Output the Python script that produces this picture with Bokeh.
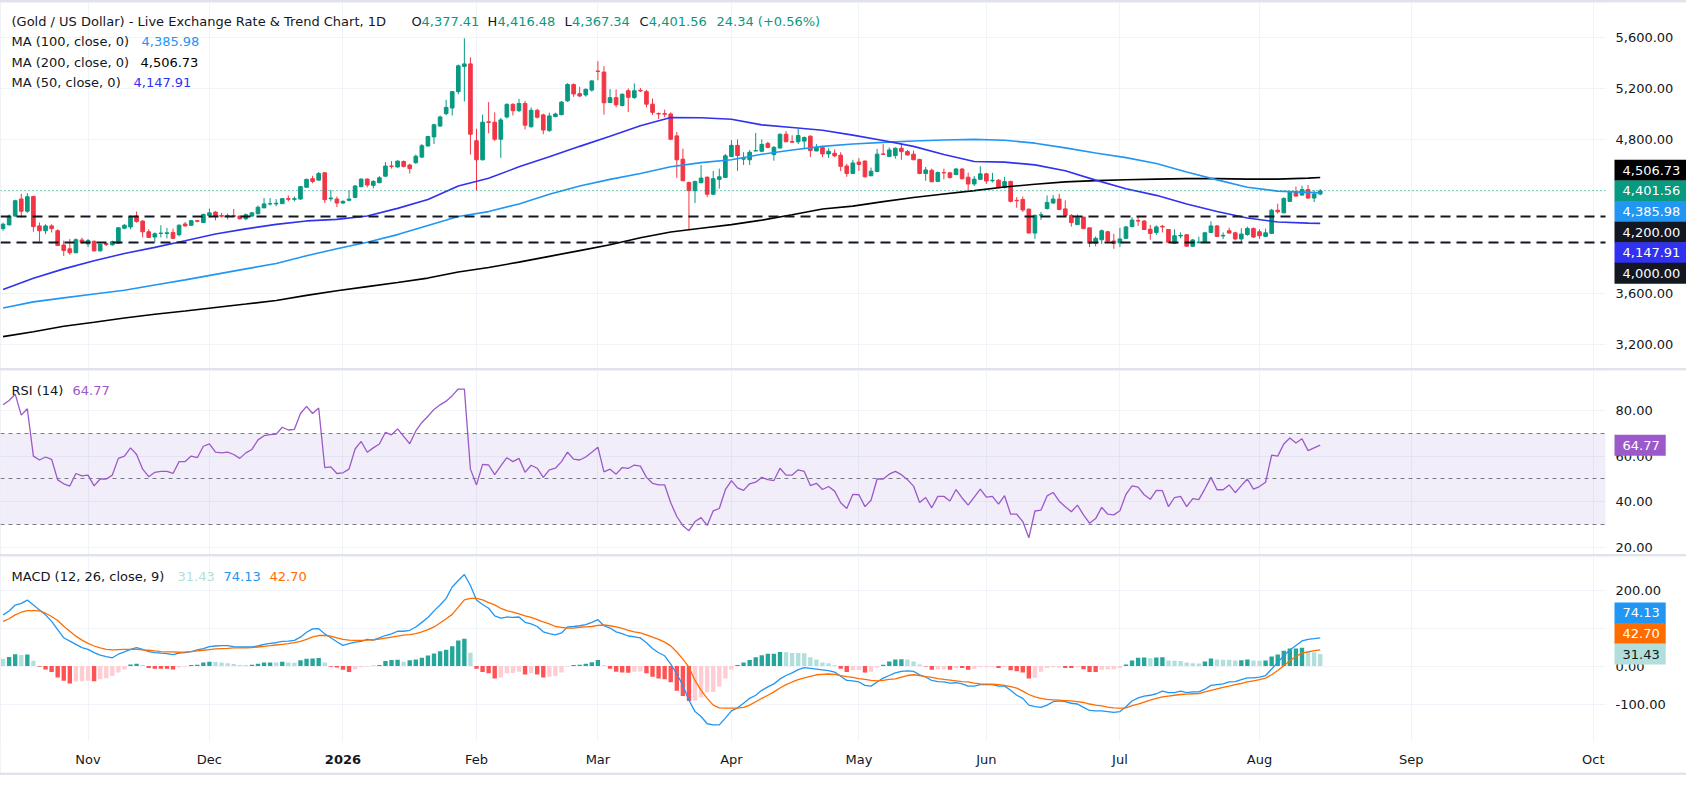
from bokeh.core.properties import value
from bokeh.embed import file_html
from bokeh.layouts import column
from bokeh.models import FixedTicker, Label, Range1d
from bokeh.plotting import figure
from bokeh.resources import INLINE

# Gold / US Dollar, daily bars (x = bar index, mid-Oct 2025 .. 14 Aug 2026)
opens = [
    4107, 4136, 4205, 4338, 4243, 4358, 4128, 4090, 4128, 4090,
    3979, 3949, 3918, 4018, 3987, 4008, 3933, 3990, 3980, 3992,
    4110, 4120, 4205, 4166, 4082, 4041, 4069, 4069, 4077, 4059,
    4143, 4133, 4169, 4154, 4210, 4236, 4210, 4203, 4208, 4205,
    4184, 4205, 4223, 4269, 4300, 4300, 4302, 4341, 4336, 4338,
    4430, 4497, 4486, 4543, 4340, 4338, 4307, 4328, 4351, 4435,
    4494, 4445, 4466, 4517, 4596, 4589, 4632, 4604, 4622, 4666,
    4753, 4824, 4909, 5006, 5050, 5178, 5375, 5395, 4794, 4645,
    4942, 4939, 4806, 4980, 5078, 5029, 5085, 4904, 5032, 4996,
    4875, 4983, 4998, 5106, 5234, 5162, 5152, 5190, 5339, 5331,
    5093, 5131, 5070, 5185, 5132, 5188, 5178, 5080, 5006, 5006,
    5003, 4832, 4650, 4468, 4404, 4466, 4509, 4376, 4492, 4507,
    4671, 4758, 4650, 4645, 4714, 4712, 4773, 4686, 4737, 4845,
    4788, 4786, 4791, 4829, 4714, 4742, 4691, 4696, 4681, 4596,
    4538, 4627, 4635, 4520, 4553, 4691, 4671, 4678, 4735, 4709,
    4689, 4648, 4538, 4563, 4476, 4545, 4543, 4530, 4573, 4509,
    4456, 4492, 4535, 4481, 4486, 4430, 4476, 4328, 4335, 4259,
    4072, 4213, 4264, 4307, 4338, 4261, 4210, 4138, 4197, 4113,
    3992, 4020, 4082, 4010, 3995, 4031, 4123, 4169, 4166, 4102,
    4077, 4125, 4100, 3992, 4049, 4059, 3969, 3997, 4005, 4077,
    4128, 4049, 4090, 4074, 4026, 4061, 4108, 4082, 4046, 4069,
    4251, 4230, 4320, 4389, 4369, 4412, 4346, 4377.41]
highs = [
    4154, 4218, 4333, 4379, 4384, 4364, 4154, 4141, 4141, 4102,
    4013, 4026, 4031, 4036, 4026, 4013, 3987, 3995, 4013, 4120,
    4143, 4210, 4241, 4172, 4102, 4077, 4133, 4113, 4107, 4141,
    4159, 4174, 4174, 4223, 4264, 4243, 4230, 4225, 4261, 4207,
    4225, 4236, 4287, 4346, 4346, 4338, 4346, 4366, 4358, 4440,
    4497, 4520, 4550, 4548, 4410, 4358, 4328, 4405, 4448, 4499,
    4499, 4486, 4517, 4627, 4635, 4640, 4640, 4614, 4686, 4768,
    4832, 4927, 4991, 5114, 5183, 5390, 5595, 5446, 4888, 4998,
    5096, 5016, 4973, 5088, 5088, 5121, 5106, 5055, 5044, 5006,
    5014, 5014, 5106, 5244, 5242, 5216, 5203, 5267, 5416, 5377,
    5198, 5195, 5165, 5203, 5242, 5206, 5193, 5124, 5016, 5037,
    5016, 4863, 4732, 4474, 4481, 4604, 4515, 4558, 4576, 4691,
    4799, 4804, 4704, 4722, 4855, 4804, 4786, 4753, 4850, 4870,
    4837, 4886, 4827, 4837, 4768, 4755, 4735, 4727, 4704, 4614,
    4645, 4658, 4640, 4584, 4730, 4768, 4742, 4742, 4773, 4722,
    4717, 4653, 4589, 4576, 4553, 4576, 4548, 4581, 4579, 4545,
    4517, 4594, 4543, 4543, 4494, 4512, 4481, 4353, 4358, 4264,
    4218, 4238, 4366, 4369, 4379, 4328, 4220, 4218, 4200, 4113,
    4046, 4100, 4090, 4067, 4113, 4128, 4195, 4197, 4174, 4136,
    4133, 4136, 4102, 4102, 4077, 4064, 4026, 4044, 4082, 4164,
    4136, 4077, 4115, 4082, 4110, 4123, 4115, 4102, 4107, 4261,
    4302, 4351, 4392, 4435, 4443, 4448, 4407, 4416.48]
lows = [
    4090, 4133, 4200, 4192, 4230, 4082, 4005, 4064, 4077, 3972,
    3892, 3903, 3915, 3987, 3962, 3928, 3928, 3969, 3974, 3990,
    4102, 4102, 4154, 4038, 4033, 4000, 4038, 4031, 4026, 4046,
    4123, 4128, 4156, 4154, 4205, 4172, 4192, 4179, 4200, 4179,
    4172, 4200, 4218, 4269, 4287, 4282, 4302, 4320, 4320, 4333,
    4430, 4461, 4486, 4307, 4320, 4276, 4300, 4320, 4346, 4430,
    4430, 4422, 4461, 4512, 4576, 4584, 4584, 4538, 4614, 4658,
    4748, 4768, 4904, 4993, 4991, 5157, 5101, 4686, 4404, 4640,
    4852, 4791, 4660, 4968, 4991, 5019, 4883, 4896, 4968, 4845,
    4863, 4978, 4993, 5098, 5137, 5134, 5139, 5178, 5267, 4998,
    5088, 5055, 5062, 5019, 5121, 5175, 5055, 4996, 4965, 4978,
    4799, 4504, 4481, 4102, 4307, 4461, 4353, 4371, 4420, 4507,
    4666, 4558, 4604, 4604, 4712, 4704, 4735, 4638, 4735, 4783,
    4778, 4768, 4735, 4666, 4712, 4666, 4660, 4666, 4556, 4512,
    4532, 4558, 4507, 4517, 4550, 4684, 4666, 4653, 4645, 4678,
    4645, 4532, 4481, 4468, 4471, 4492, 4497, 4525, 4492, 4405,
    4440, 4486, 4456, 4468, 4422, 4420, 4312, 4269, 4238, 4072,
    4026, 4174, 4256, 4302, 4251, 4205, 4123, 4136, 4102, 3962,
    3969, 3987, 4000, 3949, 3962, 4026, 4115, 4128, 4097, 4020,
    4059, 4077, 3995, 3987, 4031, 3969, 3962, 3990, 4000, 4072,
    4044, 4026, 4069, 4015, 3997, 4051, 4033, 4026, 4041, 4069,
    4225, 4230, 4317, 4358, 4366, 4340, 4315, 4367.34]
closes = [
    4141, 4205, 4325, 4243, 4356, 4123, 4090, 4128, 4107, 3974,
    3936, 3918, 4020, 4000, 4013, 3933, 3985, 3983, 4005, 4113,
    4133, 4200, 4162, 4082, 4038, 4067, 4072, 4074, 4031, 4133,
    4128, 4169, 4164, 4218, 4230, 4205, 4203, 4208, 4203, 4184,
    4215, 4230, 4274, 4300, 4302, 4305, 4341, 4336, 4341, 4435,
    4492, 4476, 4538, 4333, 4346, 4307, 4320, 4338, 4440, 4494,
    4448, 4476, 4504, 4596, 4594, 4635, 4594, 4576, 4673, 4755,
    4827, 4919, 4980, 5055, 5178, 5380, 5395, 4845, 4645, 4939,
    4937, 4806, 4957, 5078, 5029, 5085, 4916, 5032, 4978, 4878,
    4988, 5003, 5096, 5234, 5160, 5144, 5196, 5262, 5336, 5091,
    5131, 5075, 5157, 5134, 5185, 5183, 5080, 5016, 5003, 5001,
    4806, 4645, 4481, 4404, 4476, 4502, 4376, 4497, 4512, 4676,
    4758, 4678, 4655, 4704, 4717, 4765, 4742, 4742, 4845, 4786,
    4783, 4835, 4819, 4717, 4742, 4691, 4712, 4676, 4594, 4538,
    4620, 4609, 4512, 4556, 4689, 4687, 4722, 4735, 4709, 4683,
    4645, 4538, 4566, 4474, 4545, 4543, 4507, 4573, 4497, 4456,
    4494, 4535, 4479, 4486, 4430, 4474, 4320, 4325, 4253, 4072,
    4210, 4215, 4312, 4338, 4256, 4210, 4154, 4192, 4107, 3992,
    4031, 4090, 4010, 3990, 4026, 4120, 4174, 4166, 4100, 4069,
    4120, 4120, 4000, 4051, 4054, 3969, 4018, 4002, 4074, 4128,
    4046, 4054, 4072, 4026, 4064, 4108, 4041, 4051, 4074, 4251,
    4238, 4343, 4392, 4361, 4412, 4346, 4377.22, 4401.56]

# moving averages, read every 5 bars
ma_idx = list(range(0, 216, 5)) + [217]
ma50 = [3630, 3718, 3792, 3856, 3912, 3960, 4012, 4065, 4105, 4140,
        4167, 4179, 4205, 4265, 4335, 4440, 4500, 4590, 4668, 4750,
        4830, 4912, 4975, 4974, 4962, 4918, 4898, 4876, 4838, 4796,
        4750, 4686, 4632, 4627, 4605, 4560, 4486, 4418, 4367, 4300,
        4240, 4190, 4159, 4150, 4147.91]
ma100 = [3486, 3534, 3565, 3595, 3625, 3666, 3706, 3749, 3792, 3834,
         3895, 3949, 4000, 4060, 4132, 4202, 4240, 4300, 4375, 4440,
         4492, 4538, 4590, 4623, 4645, 4688, 4722, 4750, 4768, 4781,
         4792, 4800, 4805, 4798, 4775, 4738, 4698, 4662, 4616, 4550,
         4488, 4430, 4400, 4390, 4385.98]
ma200 = [3262, 3300, 3343, 3375, 3408, 3437, 3463, 3490, 3517, 3545,
         3585, 3621, 3653, 3685, 3720, 3768, 3803, 3845, 3890, 3935,
         3980, 4035, 4080, 4110, 4138, 4173, 4215, 4260, 4283, 4318,
         4350, 4378, 4404, 4432, 4454, 4472, 4482, 4489, 4494, 4498,
         4498, 4494, 4494, 4502, 4506.73]
levels = [4200.00, 4000.00]

rsi = [
    82.4, 84.3, 87.1, 77.9, 80.7, 60.0, 58.3, 59.6, 58.6, 49.6,
    47.9, 46.9, 52.4, 51.4, 51.7, 47.0, 50.0, 50.0, 51.7, 59.0,
    60.0, 63.6, 60.7, 54.3, 51.0, 52.9, 53.3, 53.3, 52.4, 57.6,
    57.6, 60.0, 59.3, 64.3, 65.3, 61.7, 61.4, 61.7, 60.7, 59.0,
    61.4, 62.9, 67.1, 68.9, 69.4, 69.6, 72.6, 71.4, 71.7, 78.6,
    81.7, 78.6, 81.0, 55.0, 55.3, 52.4, 52.7, 54.3, 63.1, 66.4,
    61.7, 63.6, 65.3, 70.4, 69.3, 71.9, 68.6, 65.4, 71.0, 74.7,
    77.4, 80.4, 82.4, 84.0, 86.4, 89.3, 89.3, 54.3, 47.4, 56.4,
    56.1, 51.9, 55.7, 59.3, 57.6, 59.0, 52.9, 56.0, 54.7, 50.7,
    54.0, 54.7, 57.6, 61.7, 58.7, 58.3, 59.6, 61.7, 63.9, 53.1,
    54.3, 52.1, 55.0, 54.6, 56.1, 55.6, 50.7, 48.1, 47.4, 47.4,
    39.6, 33.6, 29.6, 27.4, 31.4, 33.1, 29.7, 36.1, 37.1, 45.3,
    49.3, 46.1, 45.0, 47.9, 48.6, 50.7, 49.7, 49.3, 54.7, 51.7,
    51.7, 54.0, 53.3, 47.1, 48.1, 45.4, 46.7, 44.7, 39.6, 37.1,
    43.3, 43.1, 37.9, 40.7, 50.0, 50.0, 52.1, 53.3, 51.9, 49.7,
    46.9, 39.7, 41.9, 37.4, 42.4, 42.4, 40.4, 45.4, 41.7, 38.6,
    42.1, 45.6, 42.1, 42.4, 39.0, 42.7, 34.6, 34.6, 31.4, 24.3,
    36.0, 36.4, 42.6, 44.1, 40.3, 37.9, 35.7, 38.6, 34.3, 30.7,
    32.7, 37.6, 34.6, 34.3, 36.1, 43.3, 47.0, 46.4, 43.1, 41.1,
    45.0, 44.9, 37.9, 41.9, 42.4, 37.9, 41.4, 41.0, 45.7, 50.7,
    45.3, 45.3, 47.4, 44.0, 47.1, 50.0, 45.6, 46.7, 48.6, 60.4,
    60.0, 65.3, 67.9, 65.7, 67.6, 62.4, 63.6, 64.77]

macd = [
    134.7, 145, 160.6, 165, 173.6, 160.6, 147.7, 134.7, 117.4, 95.9,
    74.3, 65.6, 57, 48.4, 44, 35.4, 28.5, 25, 21.6, 31.1,
    37.1, 44, 48.4, 44, 38, 35.4, 33.7, 32.8, 30.2, 33.7,
    35.4, 38, 42.3, 45.8, 51, 52.7, 53.5, 53.5, 51, 50.1,
    50.1, 50.1, 52.7, 57, 59.6, 61.3, 64.8, 65.6, 67.4, 76,
    88.9, 97.6, 98.4, 84.6, 74.3, 63.9, 54.4, 58.7, 63, 64.8,
    69.9, 68.2, 74.3, 80.3, 84.6, 91.5, 91.5, 94.1, 102.8, 114.9,
    127.8, 145.1, 160.6, 178, 208, 225, 241, 212, 174, 162,
    152, 132, 126, 129, 128, 129, 115, 111, 104, 90,
    85, 82, 87, 103, 104, 106, 109, 115, 122, 106,
    100, 90, 85, 79, 77, 74, 61, 46, 35, 27,
    5, -21, -51, -90, -120, -133, -152, -155, -155, -137,
    -118, -110, -98, -85, -77, -64, -55, -47, -34, -25,
    -18, -9.5, -4, -6, -8, -10, -12, -16, -27, -38,
    -39, -42, -51, -53, -42, -32, -25, -18, -14, -13,
    -14, -23, -29, -38, -41, -42, -45, -44, -47, -53,
    -53, -49, -49, -49, -53, -53, -64, -77, -85, -103,
    -107, -109, -103, -94, -92, -94, -98, -100, -109, -117,
    -118, -118, -120, -122, -120, -107, -92, -84, -79, -77,
    -73, -66, -70, -70, -66, -70, -68, -68, -61, -51,
    -49, -47, -42, -41, -36, -31, -31, -29, -25, -8,
    9.5, 27, 42, 54, 66, 70, 72, 74.13]
signal = [
    117.4, 124.4, 134.7, 141.6, 146, 146, 145, 139, 130.4, 120,
    104.5, 91.5, 78.6, 68.2, 59.6, 52.7, 47.5, 44, 42.3, 43.2,
    44, 44, 44, 42.3, 41.5, 39.7, 38, 37.1, 37.1, 36.3,
    37.1, 38, 39.7, 41.5, 43.2, 44.9, 45.8, 46.6, 47.5, 47.5,
    47.5, 48.4, 50.1, 51.8, 53.5, 55.3, 57, 58.7, 61.3, 64.8,
    69.9, 76.9, 80.3, 80.3, 78.6, 74.3, 69.9, 68.2, 67.4, 67.4,
    68.2, 69.1, 70.8, 73.4, 76, 78.6, 81.2, 82.9, 85.5, 89.8,
    95.9, 102.8, 113.1, 124.4, 136, 155, 174, 178, 178, 174,
    167, 161, 152, 146, 142, 137, 132, 128, 122, 116,
    111, 104, 102, 100, 100, 102, 103, 104, 107, 108,
    106, 103, 99, 94, 90, 87, 82, 76, 70, 63,
    53, 37, 18, -3, -38, -64, -85, -103, -110, -111,
    -111, -111, -109, -103, -94, -85, -77, -68, -58, -49,
    -42, -36, -31, -27, -23, -22, -21, -22, -25, -28,
    -30, -33, -35, -38, -39, -38, -35, -34, -29, -25,
    -23, -25, -28, -30, -33, -35, -37, -39, -41, -42,
    -45, -47, -47.5, -48, -49, -51, -54, -58, -66, -75,
    -81, -85, -88, -89, -90, -91, -92, -94, -96, -100,
    -103, -105, -108, -110, -111, -110, -104, -100, -95, -90,
    -85, -81, -79, -77, -75, -74, -73, -72.5, -68, -64,
    -60, -56, -53, -49, -46, -42, -39, -36, -32, -23,
    -12, 1, 14, 25, 34, 37, 40.5, 42.70]
hist = [
    19, 24, 31, 29, 30, 14, -2, -9, -16, -30,
    -39, -46, -41, -40, -39, -40, -35, -32, -26, -17,
    -9, 4, 6, 3, -5, -7, -7, -7, -9, -4,
    -2, 3, 3.2, 9, 11, 10.8, 9, 7, 5, 3,
    2.8, 3.5, 6, 9, 9.5, 9, 11, 9, 8.5, 15,
    19, 20, 21, 9, -2, -4, -10, -16, -9, -3,
    -2, 0.5, 3, 13, 16, 16.5, 11, 15, 17, 22,
    28, 33, 39, 43, 52, 67, 72, 35, -7, -16,
    -19, -33, -30, -19, -18.5, -15, -22, -19, -22, -30,
    -28, -26, -17, -2, 3, 3.5, 6, 10, 16, 2,
    -7, -15, -17, -17.5, -15, -14.5, -19, -28, -33, -35,
    -43, -65, -79, -92, -91, -82, -69, -68.5, -54, -33,
    -9, 3, 9, 16, 23, 28.5, 32, 32.5, 37, 36.5,
    34.5, 34, 33.5, 23, 17, 9, 7, 2, -7, -16,
    -11, -10.5, -17, -15, -4, 3.5, 12, 17, 17.5, 17,
    12, 4, -1, -9.5, -9, -8.5, -9.5, -5, -5.5, -9.5,
    -7, -3.5, -3.3, -3, -5, -2.5, -11, -14, -17, -33,
    -31, -15, -5, -3.5, -3, -5, -5.5, -3.5, -8.5, -15.5,
    -16, -9.5, -9, -8.8, -5, 4, 14.5, 22, 22.5, 20.5,
    22.5, 23, 14.5, 14, 13.5, 9.5, 7, 6.8, 12, 20,
    17, 16.8, 16.6, 14.5, 15, 17, 14.5, 14, 14.5, 25,
    30, 40.5, 46, 46.2, 48, 40, 36, 31.43]

month_ticks = [14, 34, 56, 78, 98, 120, 141, 162, 184, 207, 232, 262]
month_labels = ["Nov", "Dec", "2026", "Feb", "Mar", "Apr", "May", "Jun", "Jul", "Aug", "Sep", "Oct"]
price_ticks = [3200, 3600, 4000, 4400, 4800, 5200, 5600]
rsi_ticks = [20, 40, 60, 80]
macd_ticks = [-100, 0, 100, 200]

FONT = "DejaVu Sans"
FS = "13px"
TXT = "#131722"
UP, DOWN = "#089981", "#f23645"
GRID = "#f0f3fa"
SEP = "#e0e3eb"
C50, C100, C200 = "#3131f0", "#2196f3", "#000000"
CRSI = "#9b59c9"
CMACD, CSIG = "#2196f3", "#ff6d00"

W = 1686
PLOT_W = 1605                     # chart area, the rest is the price scale
X0, X_SCALE = -0.42, 264.0        # bar range of the chart area
PX = PLOT_W / (X_SCALE - X0)      # pixels per bar
X_FULL = X0 + W / PX
ROW = 20.6
AXIS_H = 31

x_range = Range1d(X0, X_FULL)


def fmt(v):
    return f"{v:,.2f}"


def panel(height, y_lo, y_top, yticks, top=0, bottom=0):
    p = figure(width=W, height=height, x_range=x_range, y_range=Range1d(y_lo, y_top),
               x_axis_location=None, y_axis_location=None,
               output_backend="svg", toolbar_location=None,
               min_border_left=0, min_border_right=0,
               min_border_top=top, min_border_bottom=bottom)
    p.outline_line_color = None
    p.background_fill_color = "white"
    p.border_fill_color = SEP          # only the thin top / bottom edge shows it
    p.xgrid.ticker = FixedTicker(ticks=month_ticks)
    p.ygrid.ticker = FixedTicker(ticks=yticks)
    p.xgrid.grid_line_color = GRID
    p.ygrid.grid_line_color = GRID
    return p


def price_scale(p, y_lo, y_top, yticks):
    # white price-scale strip with its tick labels
    p.quad(left=X_SCALE, right=X_FULL, bottom=y_lo, top=y_top,
           fill_color="white", line_color=None)
    p.text(x=[X_SCALE] * len(yticks), y=yticks, text=[fmt(t) for t in yticks],
           x_offset=10, text_baseline="middle", text_align="left",
           text_font=value(FONT), text_font_size=value(FS), text_color=TXT)


def text(p, x, y, s, color=TXT):
    p.add_layout(Label(x=x, y=y, x_units="screen", y_units="screen", text=s,
                       text_color=color, text_font=FONT, text_font_size=FS,
                       text_baseline="middle"))


def tag(p, y, s, bg, offset=0.0, fg="white"):
    p.add_layout(Label(x=X_SCALE, y=y, x_offset=9, y_offset=offset, text=s,
                       text_color=fg, text_font=FONT, text_font_size=FS,
                       text_baseline="middle", text_align="left",
                       background_fill_color=bg,
                       padding=dict(left=8, right=6, top=6, bottom=6)))


idx = list(range(len(closes)))

# ---- price pane
P_LO, P_TOP = 3013, 5875
p1 = panel(368, P_LO, P_TOP, price_ticks, top=2)
body_top = [max(o, c) for o, c in zip(opens, closes)]
body_bot = [min(o, c) for o, c in zip(opens, closes)]
ccol = [UP if c >= o else DOWN for o, c in zip(opens, closes)]
p1.segment(idx, highs, idx, lows, color=ccol, line_width=1)
p1.vbar(idx, 0.6, body_top, body_bot, fill_color=ccol, line_color=ccol, line_width=1)
p1.line(ma_idx, ma200, color=C200, line_width=1.6)
p1.line(ma_idx, ma100, color=C100, line_width=1.6)
p1.line(ma_idx, ma50, color=C50, line_width=1.6)
p1.hspan(y=levels, line_color=TXT, line_width=2, line_dash="10 6")
p1.hspan(y=[closes[-1]], line_color=UP, line_width=1, line_dash="1 3")
price_scale(p1, P_LO, P_TOP, price_ticks)

change = closes[-1] - closes[-2]
H1 = 347.5
text(p1, 11, H1, "(Gold / US Dollar) - Live Exchange Rate & Trend Chart, 1D")
for lx, letter, w, v in [(411, "O", 10, opens[-1]), (487, "H", 10, highs[-1]),
                         (564, "L", 7.5, lows[-1]), (639, "C", 9.3, closes[-1])]:
    text(p1, lx, H1, letter)
    text(p1, lx + w, H1, fmt(v), UP)
text(p1, 716, H1, f"{change:.2f} (+{change / closes[-2] * 100:.2f}%)", UP)
text(p1, 11, 326.8, "MA (100, close, 0)")
text(p1, 141, 326.8, fmt(ma100[-1]), C100)
text(p1, 11, 306.1, "MA (200, close, 0)")
text(p1, 140, 306.1, fmt(ma200[-1]), C200)
text(p1, 11, 285.8, "MA (50, close, 0)")
text(p1, 133, 285.8, fmt(ma50[-1]), C50)

anchor = closes[-1]
tag(p1, anchor, fmt(ma200[-1]), C200, ROW)
tag(p1, anchor, fmt(closes[-1]), UP, 0)
tag(p1, anchor, fmt(ma100[-1]), C100, -ROW)
tag(p1, anchor, fmt(levels[0]), TXT, -2 * ROW)
tag(p1, anchor, fmt(ma50[-1]), C50, -3 * ROW)
tag(p1, anchor, fmt(levels[1]), TXT, -4 * ROW)

# ---- RSI pane
R_LO, R_TOP = 17.0, 97.4
p2 = panel(184, R_LO, R_TOP, rsi_ticks)
p2.hstrip(y0=[30], y1=[70], fill_color="#7e57c2", fill_alpha=0.1, line_color=None)
p2.hspan(y=[70, 50, 30], line_color="#787b86", line_width=1, line_dash="4 4")
p2.line(idx, rsi, color=CRSI, line_width=1.3)
price_scale(p2, R_LO, R_TOP, rsi_ticks)
text(p2, 11, 164, "RSI (14)")
text(p2, 72, 164, f"{rsi[-1]:.2f}", CRSI)
tag(p2, rsi[-1], f"{rsi[-1]:.2f}", CRSI)

# ---- MACD pane, the time axis band is part of its frame
M_H, M_BORDER = 219, 3
M_PLOT_LO, M_TOP = -198.7, 288.3
M_LO = M_PLOT_LO - AXIS_H * (M_TOP - M_PLOT_LO) / (M_H - M_BORDER - AXIS_H)
p3 = panel(M_H, M_LO, M_TOP, macd_ticks, bottom=M_BORDER)
hcol = []
for i, h in enumerate(hist):
    prev = hist[i - 1] if i else h
    if h >= 0:
        hcol.append("#26a69a" if prev < h else "#b2dfdb")
    else:
        hcol.append("#ffcdd2" if prev < h else "#ff5252")
p3.vbar(idx, 0.72, hist, 0, fill_color=hcol, line_color=None)
p3.line(idx, macd, color=CMACD, line_width=1.3)
p3.line(idx, signal, color=CSIG, line_width=1.3)
p3.quad(left=X0, right=X_FULL, bottom=M_LO, top=M_PLOT_LO,
        fill_color="white", line_color=None)
price_scale(p3, M_PLOT_LO, M_TOP, macd_ticks)
HM = 165 + AXIS_H
text(p3, 11, HM, "MACD (12, 26, close, 9)")
text(p3, 177, HM, f"{hist[-1]:.2f}", "#b2dfdb")
text(p3, 223, HM, f"{macd[-1]:.2f}", CMACD)
text(p3, 269, HM, f"{signal[-1]:.2f}", CSIG)
tag(p3, hist[-1], f"{macd[-1]:.2f}", CMACD, 2 * ROW)
tag(p3, hist[-1], f"{signal[-1]:.2f}", CSIG, ROW)
tag(p3, hist[-1], f"{hist[-1]:.2f}", "#b2dfdb", 0, TXT)
for t, lab in zip(month_ticks, month_labels):
    p3.add_layout(Label(x=t, y=AXIS_H - 17.5, y_units="screen", text=lab, text_align="center",
                        text_baseline="middle", text_font=FONT, text_font_size=FS,
                        text_font_style="bold" if lab == "2026" else "normal",
                        text_color=TXT))

layout = column(p1, p2, p3, spacing=2, styles={"background-color": SEP})
open("out.html", "w").write(file_html(layout, INLINE))
